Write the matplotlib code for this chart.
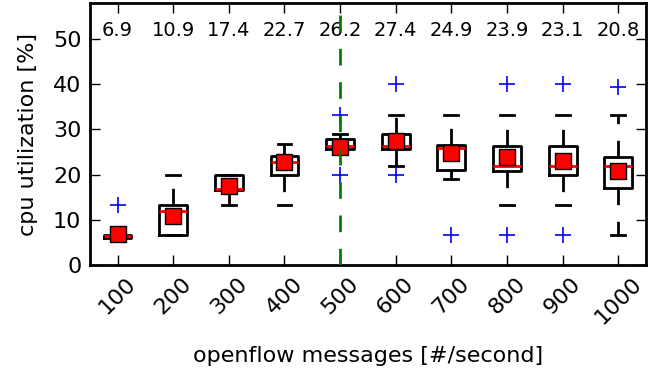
import matplotlib
matplotlib.use("Agg")
import matplotlib.pyplot as plt

categories = ["100", "200", "300", "400", "500", "600", "700", "800", "900", "1000"]
q1 = [6.0, 6.7, 16.7, 20.0, 25.6, 25.7, 21.1, 20.7, 20.0, 17.0]
med = [6.5, 12.0, 16.8, 22.9, 26.4, 26.4, 25.8, 21.9, 21.9, 21.9]
q3 = [6.7, 13.3, 20.0, 24.1, 27.8, 29.1, 26.6, 26.4, 26.3, 23.9]
whislo = [6.0, 6.7, 13.3, 13.3, 25.0, 21.9, 19.0, 13.3, 13.3, 6.7]
whishi = [6.7, 20.0, 20.0, 26.7, 28.9, 33.3, 33.3, 33.3, 33.3, 33.3]
fliers = [[13.3], [], [], [], [33.3, 20.0], [40.0, 20.0], [6.7], [40.0, 6.7], [40.0, 6.7], [39.5]]
means = [6.9, 10.9, 17.4, 22.7, 26.2, 27.4, 24.9, 23.9, 23.1, 20.8]
mean_labels = ["6.9", "10.9", "17.4", "22.7", "26.2", "27.4", "24.9", "23.9", "23.1", "20.8"]
marker_category = 5  # position of the 500 msg/s line

plt.rcParams['font.family'] = ['DejaVu Sans']
fig = plt.figure(figsize=(6.6, 3.73), dpi=100)
ax = fig.add_axes([0.136, 0.2895, 0.843, 0.7025])

stats = []
for i in range(len(categories)):
    stats.append(dict(q1=q1[i], med=med[i], q3=q3[i], whislo=whislo[i],
                      whishi=whishi[i], fliers=fliers[i], mean=means[i]))

positions = list(range(1, len(categories) + 1))
ax.bxp(stats, positions=positions, widths=0.5, showmeans=True, showfliers=True,
       boxprops=dict(color='k', lw=2),
       whiskerprops=dict(color='k', lw=2, linestyle=(0, (6, 6))),
       capprops=dict(color='k', lw=2),
       medianprops=dict(color='red', lw=2),
       meanprops=dict(marker='s', markerfacecolor='red', markeredgecolor='k',
                      markersize=11, markeredgewidth=1),
       flierprops=dict(marker='+', markeredgecolor='blue', markersize=12,
                       markeredgewidth=1.2, linestyle='none'))

ax.axvline(marker_category, color='green', lw=2, linestyle=(0, (6, 6)), zorder=5)

for p, t in zip(positions, mean_labels):
    ax.text(p, 50.7, t, ha='center', va='baseline', fontsize=14)

ax.set_xlim(0.5, len(categories) + 0.5)
ax.set_ylim(0, 58)
ax.set_yticks([0, 10, 20, 30, 40, 50])
ax.set_xticks(positions)
ax.set_xticklabels(categories, rotation=45, fontsize=16)
ax.tick_params(axis='y', labelsize=16)
ax.tick_params(direction='in', length=7, width=1, top=True, right=True, pad=6)
for s in ax.spines.values():
    s.set_linewidth(2)
ax.set_ylabel("cpu utilization [%]", fontsize=16, labelpad=11)
ax.set_xlabel("openflow messages [#/second]", fontsize=16, labelpad=13)

fig.savefig("out.png", dpi=100)
